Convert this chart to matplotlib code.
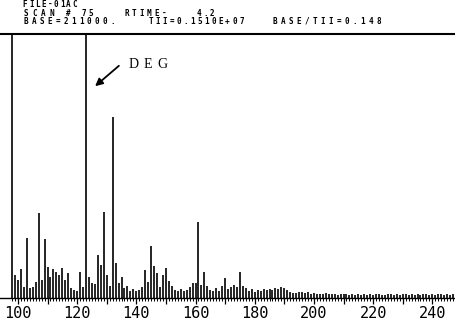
import matplotlib
matplotlib.use("Agg")
from matplotlib import pyplot as plt

plt.rcParams['font.family'] = 'DejaVu Sans Mono'

W, H = 456, 324

# mass spectrum, scan 75 (m/z -> relative abundance %)
masses = list(range(98, 248))
abund = [
    100, 8.7, 6.8, 10.9, 4.3, 22.6, 3.8, 4.3, 6.2, 32.1,      # 98-107
    6.8, 22.2, 11.6, 8.1, 10.9, 10.0, 8.7, 11.2, 6.8, 9.6,     # 108-117
    3.8, 3.0, 2.5, 10.0, 4.3, 100, 7.8, 5.6, 5.3, 16.3,        # 118-127
    12.5, 32.7, 8.7, 4.5, 68.6, 13.4, 5.5, 8.1, 3.8, 4.5,      # 128-137
    2.5, 3.5, 2.8, 3.0, 4.0, 10.6, 6.2, 19.8, 12.1, 9.6,       # 138-147
    4.0, 8.7, 11.2, 6.6, 4.5, 3.0, 2.5, 3.5, 2.6, 3.2,         # 148-157
    4.0, 5.8, 5.6, 28.9, 5.0, 10.0, 4.5, 3.0, 2.6, 3.8,        # 158-167
    2.5, 4.5, 7.6, 3.5, 4.0, 5.0, 4.2, 10.0, 4.5, 3.8,         # 168-177
    2.5, 3.5, 2.2, 3.2, 2.6, 3.4, 3.0, 3.5, 3.2, 3.6,          # 178-187
    3.4, 4.2, 3.8, 3.0, 2.4, 2.0, 1.8, 2.4, 2.2, 2.0,          # 188-197
    2.3, 1.6, 1.8, 1.5, 1.6, 1.4, 1.8, 1.5, 1.4, 1.6,          # 198-207
    1.3, 1.5, 1.6, 1.4, 1.2, 1.5, 1.3, 1.6, 1.2, 1.4,          # 208-217
    1.3, 1.5, 1.2, 1.4, 1.6, 1.3, 1.2, 1.5, 1.4, 1.3,          # 218-227
    1.6, 1.2, 1.4, 1.5, 1.3, 1.4, 1.2, 1.6, 1.3, 1.5,          # 228-237
    1.4, 1.2, 1.5, 1.3, 1.4, 1.6, 1.2, 1.4, 1.3, 1.5,          # 238-247
]
tick_marks = list(range(100, 250, 10))
tick_text = [str(m) if m % 20 == 0 else '' for m in tick_marks]

fig = plt.figure(figsize=(W / 100, H / 100), dpi=100)
ax = fig.add_axes([0, 26 / H, 1, 264 / H])

ax.vlines(masses, 0, abund, colors='black', lw=1.2)

ax.set_xlim(93.95, 248.0)
ax.set_ylim(0, 100)
for s in ['left', 'right', 'top']:
    ax.spines[s].set_visible(False)
ax.spines['bottom'].set_linewidth(1.0)
ax.set_yticks([])
ax.set_xticks(tick_marks, labels=tick_text)
ax.set_xticks(masses, minor=True)
ax.tick_params(axis='x', which='major', direction='out', length=4, width=0.9,
               pad=1.5, labelsize=11)
ax.tick_params(axis='x', which='minor', direction='out', length=2, width=0.7)

# top rule of the printout
ax.axhline(100, xmin=0, xmax=1, color='black', lw=1.5, clip_on=False)


def mono(s, x0, y, pitch, size=5.5):
    for i, ch in enumerate(s):
        fig.text((x0 + pitch * (i + 0.5)) / W, 1 - y / H, ch, ha='center',
                 va='center', fontsize=size, fontweight='bold',
                 family='DejaVu Sans Mono')


mono("FILE-01AC", 22, 4.5, 6.2)
mono("SCAN", 22, 13, 8.5)
mono("#", 64, 13, 8)
mono("75", 81, 13, 6.5)
mono("RTIME-", 123, 13, 7.5)
mono("4.2", 196, 13, 6.5)
mono("BASE=211000.", 22, 21.5, 7.9)
mono("TII=0.1510E+07", 147, 21.5, 7.0)
mono("BASE/TII=0.148", 271, 21.5, 8.0)

# hand-written note
for ch, xc in zip("DEG", [134, 147.5, 162]):
    fig.text(xc / W, 1 - 65 / H, ch, ha='center', va='center', fontsize=10,
             family='Liberation Serif')
ax.annotate('', xy=(93, H - 88), xytext=(121, H - 64),
            xycoords='figure pixels', textcoords='figure pixels',
            arrowprops=dict(arrowstyle='-|>', lw=1.3, mutation_scale=11,
                            color='black'))

fig.savefig("out.png", dpi=100)
